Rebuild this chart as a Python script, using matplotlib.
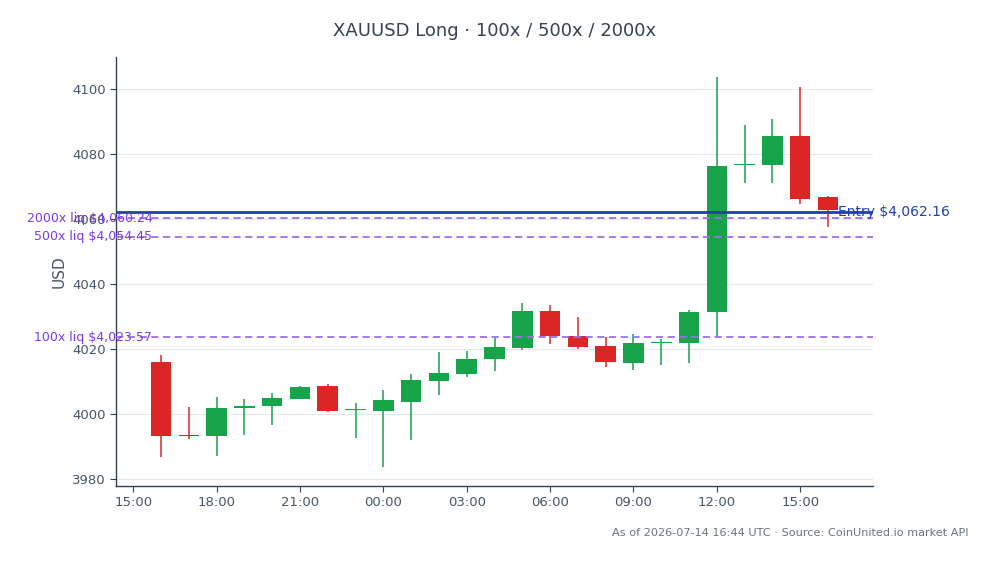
import matplotlib
matplotlib.use("Agg")
import matplotlib.pyplot as plt
import matplotlib.dates as mdates
import numpy as np
import pandas as pd

times = pd.date_range("2026-07-13 16:00", "2026-07-14 16:00", freq="1h")
opens = [4016.0, 3993.6, 3993.3, 4001.7, 4002.3, 4004.7, 4008.6, 4001.1, 4001.0, 4003.8,
         4010.2, 4012.4, 4017.0, 4020.4, 4031.7, 4024.0, 4020.9, 4015.8, 4021.7, 4021.8,
         4031.2, 4076.5, 4076.7, 4085.5, 4066.6]
closes = [3993.3, 3993.3, 4001.8, 4002.4, 4004.9, 4008.3, 4001.0, 4001.5, 4004.3, 4010.5,
          4012.6, 4016.8, 4020.5, 4031.7, 4024.1, 4020.7, 4016.1, 4021.8, 4021.9, 4031.4,
          4076.3, 4076.8, 4085.5, 4066.2, 4062.6]
highs = [4018.2, 4002.2, 4005.2, 4004.5, 4006.5, 4008.7, 4009.2, 4003.4, 4007.4, 4012.4,
         4019.1, 4019.4, 4023.6, 4034.2, 4033.5, 4029.9, 4023.8, 4024.7, 4023.1, 4032.1,
         4103.8, 4089.0, 4090.8, 4100.7, 4067.1]
lows = [3986.6, 3992.2, 3986.9, 3993.5, 3996.7, 4004.5, 4000.6, 3992.6, 3983.5, 3992.1,
        4005.9, 4011.2, 4013.3, 4019.7, 4021.6, 4020.0, 4014.5, 4013.6, 4015.1, 4015.5,
        4023.2, 4070.9, 4070.9, 4064.6, 4057.6]

entry_price = 4062.16
liq_labels = ["2000x", "500x", "100x"]
liq_prices = [4060.24, 4054.45, 4023.57]

title = "XAUUSD Long · 100x / 500x / 2000x"
footer = "As of 2026-07-14 16:44 UTC · Source: CoinUnited.io market API"

GREEN = "#16a34a"
RED = "#dc2626"
SLATE = "#334155"
TICK_C = "#475569"
ENTRY_C = "#1e40af"
LIQ_C = "#9f6ee8"
LIQ_TXT = "#7c3aed"

fig = plt.figure(figsize=(9.93, 5.64), dpi=100)
ax = fig.add_axes([116/993, 1-486/564, (873-116)/993, (486-57)/564])

x = mdates.date2num(times)
o = np.array(opens); c = np.array(closes)
colors = [GREEN if cc >= oo else RED for oo, cc in zip(o, c)]
w = 0.74 / 24
ax.vlines(x, lows, highs, colors=colors, linewidth=1.1, zorder=2)
bottoms = np.minimum(o, c)
heights = np.maximum(np.abs(c - o), 0.3)
ax.bar(x, heights, bottom=bottoms, width=w, color=colors, linewidth=0, zorder=3)

ax.axhline(entry_price, color=ENTRY_C, linewidth=2, zorder=4)
for lab, p in zip(liq_labels, liq_prices):
    ax.axhline(p, color=LIQ_C, linewidth=1.3, linestyle=(0, (4, 2.5)), zorder=4)
    ax.text(0.048, p, f"{lab} liq ${p:,.2f}", transform=ax.get_yaxis_transform(),
            ha="right", va="center", fontsize=9, color=LIQ_TXT, zorder=5)
ax.text(0.954, entry_price, f"Entry ${entry_price:,.2f}", transform=ax.get_yaxis_transform(),
        ha="left", va="center", fontsize=10, color=ENTRY_C, zorder=5, clip_on=False)

pad = 1.62 / 24
ax.set_xlim(x[0] - pad, x[-1] + pad)
ax.set_ylim(3977.8, 4109.8)
ax.set_yticks([3980, 4000, 4020, 4040, 4060, 4080, 4100])
ax.xaxis.set_major_locator(mdates.HourLocator(byhour=range(0, 24, 3)))
ax.xaxis.set_major_formatter(mdates.DateFormatter("%H:%M"))
ax.grid(axis="y", color="#e5e7eb", linewidth=0.8)
ax.set_axisbelow(True)
for s in ["top", "right"]:
    ax.spines[s].set_visible(False)
for s in ["left", "bottom"]:
    ax.spines[s].set_color(SLATE)
    ax.spines[s].set_linewidth(1.0)
ax.tick_params(colors=SLATE, labelcolor=TICK_C, labelsize=9.5, length=4)
ax.set_ylabel("USD", color=TICK_C, fontsize=11, labelpad=4)
ax.set_title(title, color="#374151", fontsize=13, pad=15)
fig.text(969/993, 1-533/564, footer, ha="right", va="center", fontsize=8.1, color="#6b7280")

fig.savefig("out.png", dpi=100)
